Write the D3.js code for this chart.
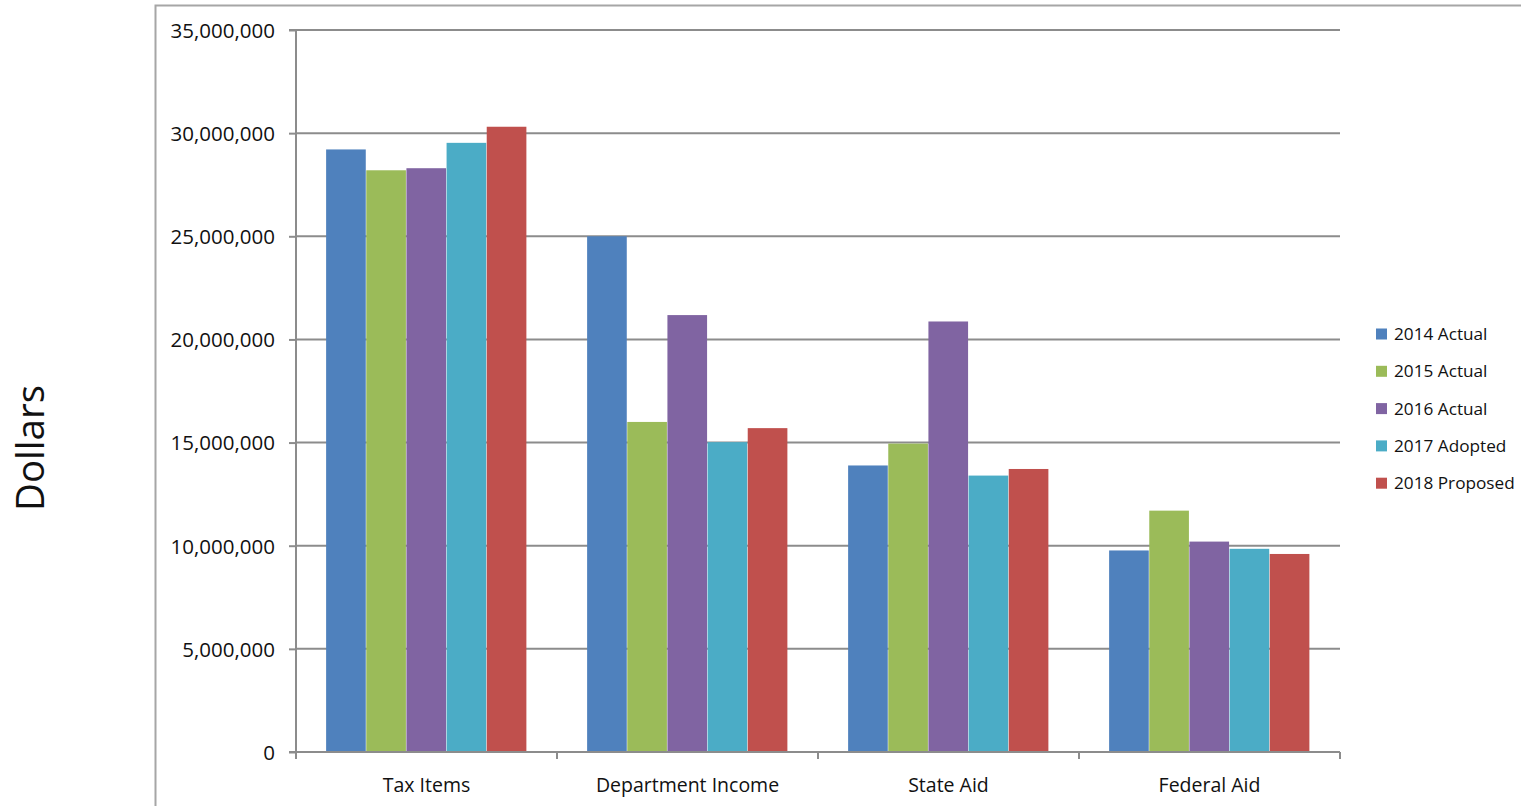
<!DOCTYPE html>
<html><head><meta charset="utf-8">
<script src="https://cdn.jsdelivr.net/npm/d3@7"></script>
<style>html,body{margin:0;padding:0;background:#fff;}svg{display:block;}</style>
</head><body>
<script>
const categories = ["Tax Items", "Department Income", "State Aid", "Federal Aid"];
const seriesNames = ["2014 Actual", "2015 Actual", "2016 Actual", "2017 Adopted", "2018 Proposed"];
const colors = ["#4F81BD", "#9BBB59", "#8064A2", "#4BACC6", "#C0504D"];
const v2014 = [29210000, 25000000, 13890000, 9770000];
const v2015 = [28200000, 16000000, 14950000, 11700000];
const v2016 = [28300000, 21180000, 20870000, 10200000];
const v2017 = [29530000, 15020000, 13400000, 9850000];
const v2018 = [30310000, 15700000, 13720000, 9600000];
const seriesValues = [v2014, v2015, v2016, v2017, v2018];
const yTicks = [0, 5000000, 10000000, 15000000, 20000000, 25000000, 30000000, 35000000];
const yTitle = "Dollars";

const W = 1521, H = 806;
const FONT = "'Open Sans', sans-serif";
const svg = d3.select("body").append("svg").attr("width", W).attr("height", H);

// outer frame
svg.append("path").attr("d", `M155.5,${H} V5.5 H${W}`).attr("fill", "none").attr("stroke", "#a6a6a6").attr("stroke-width", 2);

const plot = {l: 296, r: 1340, t: 30, b: 752};
const x0 = d3.scaleBand().domain(categories).range([plot.l, plot.r]).paddingInner(0).paddingOuter(0);
const inner = 5 / 6.5;
const x1 = d3.scaleBand().domain(seriesNames).range([0, x0.bandwidth() * inner]);
const y = d3.scaleLinear().domain([0, 35000000]).range([plot.b, plot.t]);

// gridlines
svg.append("g").selectAll("line").data(yTicks.filter(d => d > 0)).join("line")
  .attr("x1", plot.l).attr("x2", plot.r)
  .attr("y1", d => y(d)).attr("y2", d => y(d))
  .attr("stroke", "#8c8c8c").attr("stroke-width", 2);

// bars
const offset = x0.bandwidth() * (1 - inner) / 2;
const g = svg.append("g");
seriesValues.forEach((vals, si) => {
  g.selectAll(null).data(vals).join("rect")
    .attr("x", (d, i) => x0(categories[i]) + offset + x1(seriesNames[si]))
    .attr("width", x1.bandwidth() - 0.5)
    .attr("y", d => y(d))
    .attr("height", d => plot.b - y(d))
    .attr("fill", colors[si]);
});

// y axis
const fmt = d3.format(",");
const yAxis = d3.axisLeft(y).tickValues(yTicks).tickFormat(d => fmt(d)).tickSize(7).tickPadding(14);
const ya = svg.append("g").attr("transform", `translate(${plot.l},0)`).call(yAxis);
ya.select(".domain").attr("stroke", "#8c8c8c").attr("stroke-width", 2).attr("d", `M-7,${plot.t}H0V${plot.b}`);
ya.selectAll(".tick line").attr("stroke", "#8c8c8c").attr("stroke-width", 2);
ya.selectAll(".tick text").attr("font-family", FONT).attr("font-size", 20.5).attr("fill", "#111").attr("dy", "0.36em");

// x axis
const xa = svg.append("g").attr("transform", `translate(0,${plot.b})`);
xa.append("line").attr("x1", plot.l - 7).attr("x2", plot.r).attr("y1", 0).attr("y2", 0).attr("stroke", "#8c8c8c").attr("stroke-width", 2);
const bounds = categories.map(c => x0(c)).concat([plot.r]);
xa.selectAll("line.tk").data(bounds).join("line").attr("class", "tk")
  .attr("x1", d => d).attr("x2", d => d).attr("y1", 0).attr("y2", 7)
  .attr("stroke", "#8c8c8c").attr("stroke-width", 2);
xa.selectAll("text").data(categories).join("text")
  .attr("x", d => x0(d) + x0.bandwidth() / 2).attr("y", 40)
  .attr("text-anchor", "middle").attr("font-family", FONT).attr("font-size", 19.5).attr("fill", "#111")
  .text(d => d);

// y title
svg.append("text").attr("transform", "translate(44,448) rotate(-90)")
  .attr("text-anchor", "middle").attr("font-family", FONT).attr("font-size", 38.5).attr("fill", "#111")
  .text(yTitle);

// legend
const lg = svg.append("g");
seriesNames.forEach((n, i) => {
  const cy = 334 + i * 37.3;
  lg.append("rect").attr("x", 1376).attr("y", cy - 5.5).attr("width", 11).attr("height", 11).attr("fill", colors[i]);
  lg.append("text").attr("x", 1394).attr("y", cy).attr("dy", "0.36em")
    .attr("font-family", FONT).attr("font-size", 17.2).attr("fill", "#111").text(n);
});
</script>
</body></html>
